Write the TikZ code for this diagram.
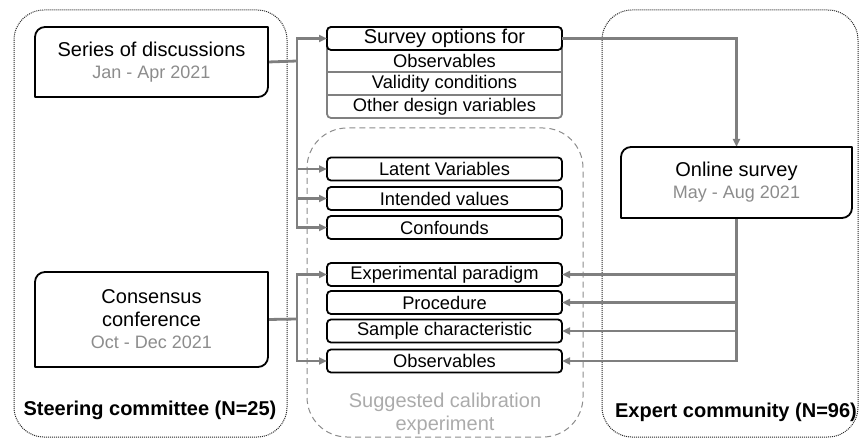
\documentclass[tikz,border=0pt]{standalone}
\usepackage{fontspec}
\setmainfont{Liberation Sans}
\usetikzlibrary{arrows.meta,calc}
\definecolor{cgray}{HTML}{7F7F7F}
\definecolor{dgray}{HTML}{8C8C8C}
\definecolor{lgray}{HTML}{ABABAB}
\definecolor{rgray}{HTML}{808080}
\newcommand\tlbrbox[3]{%
  \draw[mainline] ($(#1.north west)+(0,#2)$) .. controls ($(#1.north west)+(0,#3)$) and ($(#1.north west)+(#3,0)$) .. ($(#1.north west)+(#2,0)$)
   -- (#1.north east) -- ($(#1.south east)+(0,-#2)$) .. controls ($(#1.south east)+(0,-#3)$) and ($(#1.south east)+(-#3,0)$) .. ($(#1.south east)+(-#2,0)$)
   -- (#1.south west) -- cycle;}
\begin{document}
\begin{tikzpicture}[x=1pt,y=-1pt,
  bigfont/.style={font=\fontsize{20}{23}\selectfont},
  smallfont/.style={font=\fontsize{18.3}{20}\selectfont},
  mainline/.style={draw=black,line width=1.8pt,line join=round},
  mainbox/.style={bigfont,align=center,inner sep=0pt,outer sep=0pt,fill=none},
  lbox/.style={draw=black,line width=1.8pt,rounded corners=4pt,fill=white,
    minimum width=235pt,minimum height=23pt,inner sep=0pt,outer sep=0pt,smallfont},
  row/.style={minimum width=235pt,minimum height=22.7pt,inner sep=0pt,outer sep=0pt,smallfont},
  conn/.style={draw=cgray,line width=2.8pt},
  arr/.style={conn,-{Triangle[length=8pt,width=7pt]}},
  dotbox/.style={draw=black!85,line width=1pt,dash pattern=on 1pt off 1pt,rounded corners=30pt},
  dashbox/.style={draw=black!45,line width=1pt,dash pattern=on 6pt off 4pt,rounded corners=40pt},
]
\useasboundingbox (0,0) rectangle (863,441);

% containers
\draw[dotbox] (14,10) rectangle (287,437);
\draw[dotbox] (602,10) rectangle (858,437);
\draw[dashbox] (307,128) rectangle (583,437);

% main nodes (outlines drawn after)
\node[mainbox,minimum width=233pt,minimum height=70pt] (sd) at (151.5,62)
  {Series of discussions\\[-1pt]{\fontsize{18}{20}\selectfont\color{dgray}Jan - Apr 2021}};
\node[mainbox,minimum width=233pt,minimum height=95pt] (cc) at (151.5,319.5)
  {Consensus\\conference\\[-1pt]{\fontsize{18}{20}\selectfont\color{dgray}Oct - Dec 2021}};
\node[mainbox,minimum width=231pt,minimum height=71pt] (os) at (736.5,182.5)
  {Online survey\\[-1pt]{\fontsize{18}{20}\selectfont\color{dgray}May - Aug 2021}};

% survey options table
\draw[draw=rgray,line width=1.8pt,rounded corners=4pt,fill=white] (327,27) rectangle (562,118);
\node[row] (so1) at (444.5,61) {Observables};
\node[row] (so2) at (444.5,83.5) {Validity conditions};
\node[row] (so3) at (444.5,106.5) {Other design variables};
\draw[draw=rgray,line width=1.8pt] (so1.south west) -- (so1.south east);
\draw[draw=rgray,line width=1.8pt] (so2.south west) -- (so2.south east);
\node[lbox,bigfont,minimum height=23pt] (soh) at (444.5,38.5) {Survey options for};

% list boxes
\node[lbox] (lv) at (444.5,169) {Latent Variables};
\node[lbox] (iv) at (444.5,198.5) {Intended values};
\node[lbox] (cf) at (444.5,227.5) {Confounds};
\node[lbox] (ep) at (444.5,274.5) {Experimental paradigm};
\node[lbox] (pr) at (444.5,302.5) {Procedure};
\node[lbox] (sc) at (444.5,331) {Sample characteristic};
\node[lbox] (ob) at (444.5,361) {Observables};

% connectors
\coordinate (j1) at (297,61);
\coordinate (j2) at (297,319);
\draw[conn] (sd.east) -- (j1);
\draw[arr] (j1) |- (soh.west);
\draw[arr] (j1) |- (lv.west);
\draw[arr] (j1) |- (iv.west);
\draw[arr] (j1) |- (cf.west);
\draw[conn] (cc.east) -- (j2);
\draw[arr] (j2) |- (ep.west);
\draw[arr] (j2) |- (ob.west);
\draw[arr] (soh.east) -| (os.north);
\draw[arr] (os.south) |- (ep.east);
\draw[arr] (os.south) |- (pr.east);
\draw[arr] (os.south) |- (sc.east);
\draw[arr] (os.south) |- (ob.east);

% main box outlines
\tlbrbox{sd}{10}{4.5}
\tlbrbox{cc}{10}{4.5}
\tlbrbox{os}{10}{4.5}

% labels
\node[font=\fontsize{20}{23}\selectfont\bfseries] (stc) at (150,410) {Steering committee (N=25)};
\node[font=\fontsize{20}{23}\selectfont\bfseries] (exc) at (736,412) {Expert community (N=96)};
\node[text=lgray,align=center,font=\fontsize{20}{22.5}\selectfont] (sug) at (445,414) {Suggested calibration\\experiment};
\end{tikzpicture}
\end{document}
